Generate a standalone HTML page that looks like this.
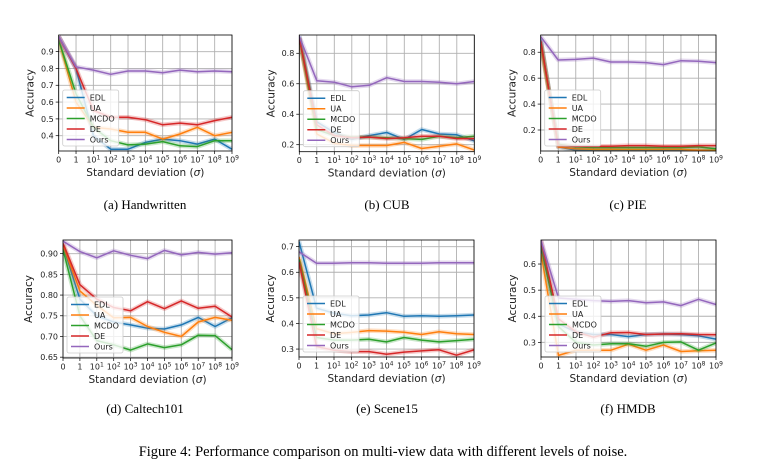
<!DOCTYPE html>
<html><head><meta charset="utf-8"><style>
body{margin:0;background:#fff;}
svg{display:block;font-family:"DejaVu Sans","Liberation Sans",sans-serif;}
.cap{font-family:"Liberation Serif",serif;}
</style></head><body>
<svg id="fig" width="760" height="476" viewBox="0 0 760 476" xmlns="http://www.w3.org/2000/svg">
<text class="cap" x="145" y="209" font-size="13" text-anchor="middle">(a)  Handwritten</text>
<text class="cap" x="387" y="209" font-size="13" text-anchor="middle">(b)  CUB</text>
<text class="cap" x="628" y="209" font-size="13" text-anchor="middle">(c)  PIE</text>
<text class="cap" x="145" y="413" font-size="13" text-anchor="middle">(d)  Caltech101</text>
<text class="cap" x="387" y="413" font-size="13" text-anchor="middle">(e)  Scene15</text>
<text class="cap" x="628" y="413" font-size="13" text-anchor="middle">(f)  HMDB</text>
<text class="cap" x="383" y="456" font-size="14.5" text-anchor="middle">Figure 4: Performance comparison on multi-view data with different levels of noise.</text>
</svg>
<script>
const seriesNames=["EDL","UA","MCDO","DE","Ours"];
const colors=["#1f77b4","#ff7f0e","#2ca02c","#d62728","#9467bd"];
const xTickLabels=["0","1","1","2","3","4","5","6","7","8","9"];
const handwrittenEDL=[0.99,0.80,0.40,0.32,0.32,0.36,0.38,0.37,0.35,0.38,0.32];
const handwrittenUA=[0.97,0.60,0.45,0.44,0.42,0.42,0.38,0.41,0.45,0.40,0.42];
const handwrittenMCDO=[0.97,0.65,0.45,0.37,0.345,0.35,0.365,0.34,0.335,0.37,0.37];
const handwrittenDE=[0.99,0.80,0.55,0.51,0.51,0.495,0.465,0.475,0.465,0.49,0.51];
const handwrittenOurs=[0.99,0.81,0.79,0.765,0.785,0.785,0.775,0.79,0.78,0.785,0.78];
const cubEDL=[0.91,0.35,0.28,0.235,0.26,0.28,0.235,0.30,0.27,0.265,0.225];
const cubUA=[0.90,0.27,0.21,0.195,0.195,0.195,0.215,0.175,0.19,0.205,0.165];
const cubMCDO=[0.90,0.30,0.26,0.25,0.25,0.245,0.24,0.235,0.255,0.245,0.255];
const cubDE=[0.90,0.33,0.26,0.245,0.25,0.24,0.245,0.255,0.255,0.24,0.24];
const cubOurs=[0.91,0.62,0.61,0.58,0.59,0.64,0.615,0.615,0.61,0.60,0.615];
const pieEDL=[0.90,0.07,0.045,0.045,0.045,0.045,0.045,0.045,0.045,0.045,0.045];
const pieUA=[0.86,0.07,0.055,0.05,0.05,0.05,0.05,0.05,0.05,0.045,0.045];
const pieMCDO=[0.88,0.09,0.07,0.065,0.065,0.065,0.065,0.065,0.065,0.07,0.055];
const pieDE=[0.89,0.08,0.075,0.075,0.075,0.08,0.08,0.075,0.075,0.08,0.08];
const pieOurs=[0.92,0.74,0.745,0.755,0.725,0.725,0.72,0.705,0.735,0.73,0.72];
const caltechEDL=[0.92,0.79,0.75,0.735,0.728,0.72,0.718,0.728,0.746,0.724,0.745];
const caltechUA=[0.92,0.81,0.775,0.745,0.746,0.724,0.71,0.70,0.735,0.746,0.739];
const caltechMCDO=[0.91,0.75,0.69,0.68,0.667,0.682,0.673,0.68,0.703,0.702,0.668];
const caltechDE=[0.925,0.825,0.79,0.77,0.762,0.784,0.767,0.786,0.768,0.773,0.747];
const caltechOurs=[0.93,0.905,0.89,0.907,0.896,0.888,0.908,0.897,0.903,0.899,0.902];
const sceneEDL=[0.72,0.46,0.44,0.43,0.433,0.442,0.428,0.43,0.428,0.43,0.433];
const sceneUA=[0.66,0.38,0.36,0.365,0.372,0.37,0.366,0.357,0.368,0.36,0.357];
const sceneMCDO=[0.65,0.345,0.335,0.335,0.338,0.328,0.345,0.335,0.328,0.333,0.338];
const sceneDE=[0.64,0.31,0.295,0.29,0.29,0.28,0.288,0.293,0.297,0.276,0.297];
const sceneOurs=[0.68,0.635,0.635,0.637,0.637,0.635,0.635,0.635,0.637,0.637,0.637];
const hmdbEDL=[0.66,0.37,0.34,0.33,0.33,0.322,0.33,0.332,0.33,0.325,0.312];
const hmdbUA=[0.64,0.25,0.27,0.27,0.27,0.293,0.27,0.29,0.265,0.268,0.27];
const hmdbMCDO=[0.67,0.36,0.30,0.29,0.295,0.295,0.285,0.30,0.302,0.27,0.298];
const hmdbDE=[0.69,0.39,0.34,0.32,0.337,0.338,0.33,0.332,0.333,0.33,0.329];
const hmdbOurs=[0.69,0.47,0.465,0.46,0.457,0.46,0.452,0.455,0.441,0.465,0.445];
const handwrittenYTicks=[0.4,0.5,0.6,0.7,0.8,0.9];
const cubYTicks=[0.2,0.4,0.6,0.8];
const pieYTicks=[0.2,0.4,0.6,0.8];
const caltechYTicks=[0.65,0.70,0.75,0.80,0.85,0.90];
const sceneYTicks=[0.3,0.4,0.5,0.6,0.7];
const hmdbYTicks=[0.3,0.4,0.5,0.6];

const panels=[
 {id:"handwritten",box:[58.7,35,232,151],dom:[0.309,0.999],ticks:handwrittenYTicks,dec:1,data:[handwrittenEDL,handwrittenUA,handwrittenMCDO,handwrittenDE,handwrittenOurs]},
 {id:"cub",box:[299.3,35,474.3,151.7],dom:[0.154,0.92],ticks:cubYTicks,dec:1,data:[cubEDL,cubUA,cubMCDO,cubDE,cubOurs]},
 {id:"pie",box:[540.7,35,716,151],dom:[0.038,0.933],ticks:pieYTicks,dec:1,data:[pieEDL,pieUA,pieMCDO,pieDE,pieOurs]},
 {id:"caltech101",box:[63,240,232,358],dom:[0.648,0.933],ticks:caltechYTicks,dec:2,data:[caltechEDL,caltechUA,caltechMCDO,caltechDE,caltechOurs]},
 {id:"scene15",box:[299,240,474,357],dom:[0.269,0.726],ticks:sceneYTicks,dec:1,data:[sceneEDL,sceneUA,sceneMCDO,sceneDE,sceneOurs]},
 {id:"hmdb",box:[541,240,716,357],dom:[0.244,0.692],ticks:hmdbYTicks,dec:1,data:[hmdbEDL,hmdbUA,hmdbMCDO,hmdbDE,hmdbOurs]}
];
const NS="http://www.w3.org/2000/svg";
const svg=document.getElementById("fig");
function mk(tag,attrs,parent){const e=document.createElementNS(NS,tag);for(const k in attrs)e.setAttribute(k,attrs[k]);(parent||svg).appendChild(e);return e;}
panels.forEach(p=>{
 const [x0,y0,x1,y1]=p.box;
 const g=mk("g",{});
 
 
 const n=xTickLabels.length;
 const xs=i=>x0+(x1-x0)*i/(n-1);
 const ys=v=>y1-(v-p.dom[0])/(p.dom[1]-p.dom[0])*(y1-y0);
 for(let i=0;i<n;i++){
  const l=mk("line",{x1:xs(i),x2:xs(i),y1:y0,y2:y1,stroke:"#b0b0b0","stroke-width":0.9},g);
  
  
  mk("line",{x1:xs(i),x2:xs(i),y1:y1,y2:y1+3,stroke:"#000","stroke-width":0.7},g);
  const t=mk("text",{x:xs(i),y:y1+11.5,"font-size":8,"text-anchor":"middle",fill:"#222"},g);
  
  
  if(i<2)t.textContent=xTickLabels[i];
  else{t.textContent="10";const s=mk("tspan",{dy:-3,"font-size":6},t);s.textContent=xTickLabels[i];}
 }
 p.ticks.forEach(v=>{
  const y=ys(v);
  const l=mk("line",{x1:x0,x2:x1,y1:y,y2:y,stroke:"#b0b0b0","stroke-width":0.9},g);
  
  
  mk("line",{x1:x0-3,x2:x0,y1:y,y2:y,stroke:"#000","stroke-width":0.7},g);
  const t=mk("text",{x:x0-5,y:y+2.9,"font-size":8,"text-anchor":"end",fill:"#222"},g);
  
  
  t.textContent=v.toFixed(p.dec);
 });
 const cp=mk("clipPath",{id:"clip-"+p.id},g);
 mk("rect",{x:x0,y:y0,width:x1-x0,height:y1-y0},cp);
 const sg=mk("g",{"clip-path":"url(#clip-"+p.id+")"},g);
 p.data.forEach((arr,si)=>{
  const d=arr.map((v,i)=>(i?"L":"M")+xs(i).toFixed(1)+","+ys(v).toFixed(1)).join(" ");
  const band=mk("path",{d:d,fill:"none",stroke:colors[si],"stroke-width":4.5,"stroke-opacity":0.25,"stroke-linejoin":"round"},sg);
  
  
  const line=mk("path",{d:d,fill:"none",stroke:colors[si],"stroke-width":1.5,"stroke-linejoin":"round"},sg);
  
  
 });
 const fr=mk("rect",{x:x0,y:y0,width:x1-x0,height:y1-y0,fill:"none",stroke:"#000","stroke-width":0.8},g);
 
 
 const lx=x0+4,ly=y1-61;
 const lg=mk("g",{},g);
 
 
 mk("rect",{x:lx,y:ly,width:56,height:56,fill:"#fff","fill-opacity":0.8,stroke:"#ccc","stroke-width":0.8,rx:2},lg);
 seriesNames.forEach((s,si)=>{
  const yy=ly+7.5+si*10.5;
  const ll=mk("line",{x1:lx+4,x2:lx+22,y1:yy,y2:yy,stroke:colors[si],"stroke-width":1.5},lg);
  
  
  const t=mk("text",{x:lx+27,y:yy+2.9,"font-size":8,fill:"#222"},lg);
  
  
  t.textContent=s;
 });
 const xl=mk("text",{x:(x0+x1)/2,y:y1+25,"font-size":10.5,"text-anchor":"middle",fill:"#222"},g);
 
 
 xl.textContent="Standard deviation (";
 const sig=mk("tspan",{"font-style":"italic"},xl);sig.textContent="σ";
 const cl=mk("tspan",{},xl);cl.textContent=")";
 const yx=x0-(p.dec===2?31:25),yc=(y0+y1)/2;
 const yl=mk("text",{x:yx,y:yc,"font-size":10.5,"text-anchor":"middle",fill:"#222",transform:"rotate(-90 "+yx+" "+yc+")"},g);
 
 
 yl.textContent="Accuracy";
});
</script>
</body></html>
